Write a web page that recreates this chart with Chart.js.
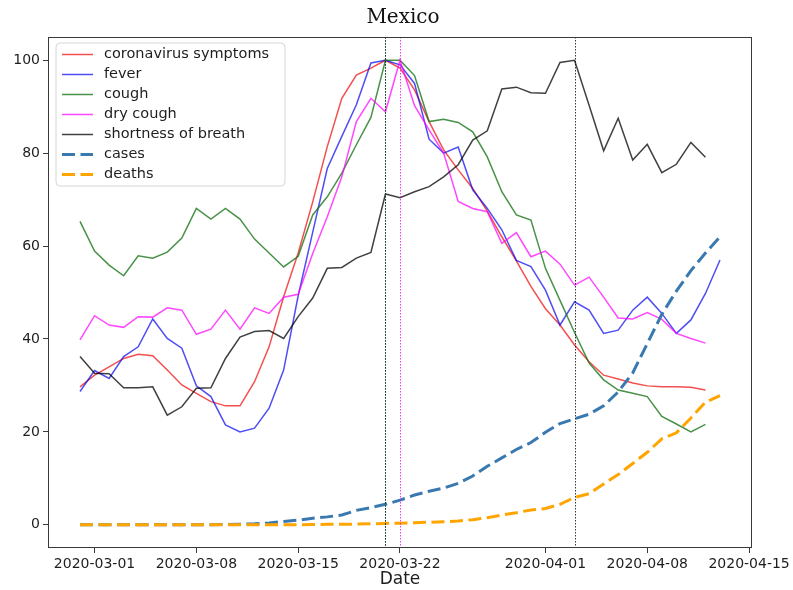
<!DOCTYPE html>
<html>
<head>
<meta charset="utf-8">
<title>Mexico</title>
<script src="https://cdn.jsdelivr.net/npm/chart.js@4/dist/chart.umd.min.js"></script>
<style>
  html, body { margin: 0; padding: 0; background: #ffffff; }
  canvas { display: block; }
</style>
</head>
<body>
<canvas id="chart" width="793" height="590"></canvas>
<script>
// Daily observations, 2020-02-29 .. 2020-04-13
const dates = [
  '2020-02-29',
  '2020-03-01','2020-03-02','2020-03-03','2020-03-04','2020-03-05','2020-03-06','2020-03-07',
  '2020-03-08','2020-03-09','2020-03-10','2020-03-11','2020-03-12','2020-03-13','2020-03-14',
  '2020-03-15','2020-03-16','2020-03-17','2020-03-18','2020-03-19','2020-03-20','2020-03-21',
  '2020-03-22','2020-03-23','2020-03-24','2020-03-25','2020-03-26','2020-03-27','2020-03-28',
  '2020-03-29','2020-03-30','2020-03-31',
  '2020-04-01','2020-04-02','2020-04-03','2020-04-04','2020-04-05','2020-04-06','2020-04-07',
  '2020-04-08','2020-04-09','2020-04-10','2020-04-11','2020-04-12','2020-04-13'
];

// Search interest (scaled 0-100)
const coronavirusSymptoms = [29.7, 32.2, 34.0, 35.8, 36.7, 36.4, 33.3, 30.1, 28.3, 26.5, 25.6, 25.6, 30.8, 38.3, 49.1, 58.5, 69.5, 81.4, 91.8, 96.8, 98.3, 100, 98.3, 93.6, 86.8, 80.7, 76.4, 72.4, 67.5, 62.0, 56.8, 51.3, 46.5, 43.0, 38.7, 35.1, 32.2, 31.4, 30.5, 29.9, 29.7, 29.7, 29.6, 29.0];
const fever = [28.7, 33.2, 31.5, 36.2, 38.3, 44.3, 40.1, 38.0, 29.9, 27.6, 21.5, 20.0, 20.8, 25.1, 33.3, 49.3, 63.0, 76.7, 83.6, 90.4, 99.4, 100, 99.0, 95.0, 83.0, 80.0, 81.3, 72.1, 68.1, 63.5, 56.9, 55.6, 50.5, 43.0, 48.0, 46.2, 41.2, 41.9, 46.2, 49.0, 45.5, 41.2, 44.1, 49.8, 57.0];
const cough = [65.3, 58.9, 55.9, 53.6, 57.9, 57.4, 58.7, 61.7, 68.1, 65.8, 68.1, 65.8, 61.5, 58.5, 55.5, 57.8, 66.7, 70.6, 75.7, 81.8, 87.7, 100, 100, 96.7, 86.8, 87.3, 86.6, 84.6, 79.2, 71.7, 66.7, 65.6, 55.2, 48.3, 41.4, 34.8, 31.2, 29.0, 28.3, 27.6, 23.3, 21.7, 20.0, 21.6];
const dryCough = [39.8, 45.0, 43.0, 42.5, 44.8, 44.7, 46.7, 46.2, 41.0, 42.1, 46.2, 42.1, 46.7, 45.5, 49.0, 49.6, 58.4, 66.3, 74.9, 86.8, 91.8, 88.9, 100, 90.2, 85.0, 80.0, 69.6, 68.1, 67.4, 60.6, 62.9, 57.7, 58.9, 56.1, 51.6, 53.3, 49.0, 44.5, 44.3, 45.7, 44.2, 41.2, 40.1, 39.1];
const shortnessOfBreath = [36.2, 32.6, 32.5, 29.5, 29.5, 29.7, 23.6, 25.4, 29.4, 29.5, 35.8, 40.4, 41.6, 41.8, 40.1, 44.8, 48.8, 55.2, 55.4, 57.4, 58.6, 71.2, 70.4, 71.7, 72.8, 74.9, 77.5, 82.8, 84.8, 93.8, 94.2, 93.0, 92.9, 99.5, 100, 90.3, 80.5, 87.5, 78.5, 81.9, 75.8, 77.6, 82.3, 79.1];

// Cases and deaths (scaled)
const cases = [0, 0, 0, 0, 0, 0, 0, 0, 0, 0, 0.05, 0.1, 0.2, 0.4, 0.7, 1.0, 1.4, 1.7, 2.1, 3.1, 3.7, 4.4, 5.3, 6.4, 7.2, 7.9, 8.9, 10.5, 12.6, 14.4, 16.2, 17.7, 19.9, 21.8, 22.8, 23.8, 25.6, 28.6, 32.7, 39.0, 45.3, 50.3, 54.7, 58.5, 62.0];
const deaths = [0, 0, 0, 0, 0, 0, 0, 0, 0, 0, 0, 0, 0, 0, 0, 0, 0.05, 0.1, 0.1, 0.15, 0.2, 0.3, 0.35, 0.45, 0.55, 0.65, 0.8, 1.1, 1.5, 2.1, 2.6, 3.2, 3.5, 4.4, 5.9, 6.7, 8.8, 10.8, 13.2, 15.6, 18.5, 19.8, 23.0, 26.4, 27.8];

const xTickLabels = ['2020-03-01', '2020-03-08', '2020-03-15', '2020-03-22', '2020-04-01', '2020-04-08', '2020-04-15'];
const yTickValues = [0, 20, 40, 60, 80, 100];

const DAY = 86400000;
const dayOf = d => (Date.parse(d) - Date.parse(dates[0])) / DAY;
const toPoints = arr => arr.map((v, i) => ({ x: dayOf(dates[i]), y: v }));

const firstDay = dayOf(dates[0]);
const lastDay = dayOf(dates[dates.length - 1]);
const span = lastDay - firstDay;

const symptomSeries = [
  { label: 'coronavirus symptoms', data: coronavirusSymptoms, color: 'rgba(240,20,20,0.75)',  peak: 'rgba(200,0,0,0.8)' },
  { label: 'fever',                data: fever,               color: 'rgba(10,10,240,0.72)',  peak: 'rgba(0,0,200,0.8)' },
  { label: 'cough',                data: cough,               color: 'rgba(20,115,20,0.78)',  peak: 'rgba(0,90,0,0.85)' },
  { label: 'dry cough',            data: dryCough,            color: 'rgba(255,0,255,0.72)',  peak: 'rgba(255,0,255,0.8)' },
  { label: 'shortness of breath',  data: shortnessOfBreath,   color: 'rgba(0,0,0,0.75)',      peak: 'rgba(0,0,0,0.8)' }
];

const datasets = symptomSeries.map((s, i) => ({
  label: s.label,
  data: toPoints(s.data),
  borderColor: s.color,
  backgroundColor: s.color,
  borderWidth: 1.5,
  pointRadius: 0,
  tension: 0,
  fill: false,
  order: 20 - i
}));
datasets.push({
  label: 'cases', data: toPoints(cases),
  borderColor: '#3a78b0', backgroundColor: '#3a78b0',
  borderWidth: 3, borderDash: [13, 5.5], borderCapStyle: 'butt',
  pointRadius: 0, tension: 0, fill: false, order: 2
});
datasets.push({
  label: 'deaths', data: toPoints(deaths),
  borderColor: '#ffa500', backgroundColor: '#ffa500',
  borderWidth: 3, borderDash: [13, 5.5], borderCapStyle: 'butt',
  pointRadius: 0, tension: 0, fill: false, order: 1
});

const TEXT = '#1e1e1e';
const FONT = 'DejaVu Sans';

// Frame, peak markers, title, axis label and legend
const decorations = {
  id: 'decorations',
  afterDatasetsDraw(chart) {
    const { ctx, chartArea: a, scales: { x } } = chart;
    ctx.save();
    ctx.beginPath();
    ctx.rect(a.left, a.top, a.right - a.left, a.bottom - a.top);
    ctx.clip();
    // dotted vertical line at each symptom's peak day
    ctx.lineWidth = 1;
    ctx.setLineDash([1.5, 1.5]);
    symptomSeries.forEach(s => {
      let best = 0;
      s.data.forEach((v, i) => { if (v > s.data[best]) best = i; });
      const px = Math.round(x.getPixelForValue(dayOf(dates[best]))) + 0.5;
      ctx.strokeStyle = s.peak;
      ctx.beginPath();
      ctx.moveTo(px, a.top);
      ctx.lineTo(px, a.bottom);
      ctx.stroke();
    });
    ctx.restore();
  },
  afterDraw(chart) {
    const { ctx, chartArea: a, data } = chart;
    ctx.save();
    // axes frame
    ctx.strokeStyle = '#3a3a3a';
    ctx.lineWidth = 1;
    ctx.setLineDash([]);
    ctx.strokeRect(Math.round(a.left) + 0.5, Math.round(a.top) + 0.5,
                   Math.round(a.right - a.left) - 1, Math.round(a.bottom - a.top) - 1);

    // title
    ctx.fillStyle = '#111';
    ctx.textAlign = 'center';
    ctx.textBaseline = 'middle';
    ctx.font = '20px "DejaVu Serif"';
    ctx.fillText('Mexico', (a.left + a.right) / 2 + 3, 18);

    // x axis label
    ctx.fillStyle = TEXT;
    ctx.font = '17px "' + FONT + '"';
    ctx.fillText('Date', (a.left + a.right) / 2, 580);

    // legend
    const bx = a.left + 8, by = a.top + 6, bw = 229, bh = 143, r = 4;
    ctx.beginPath();
    ctx.moveTo(bx + r, by);
    ctx.arcTo(bx + bw, by, bx + bw, by + bh, r);
    ctx.arcTo(bx + bw, by + bh, bx, by + bh, r);
    ctx.arcTo(bx, by + bh, bx, by, r);
    ctx.arcTo(bx, by, bx + bw, by, r);
    ctx.closePath();
    ctx.fillStyle = 'rgba(255,255,255,0.85)';
    ctx.fill();
    ctx.strokeStyle = '#d6d6d6';
    ctx.lineWidth = 1;
    ctx.stroke();

    ctx.textAlign = 'left';
    ctx.font = '14.5px "' + FONT + '"';
    data.datasets.forEach((ds, i) => {
      const cy = by + 11.5 + i * 20;
      ctx.strokeStyle = ds.borderColor;
      ctx.lineWidth = ds.borderWidth;
      ctx.setLineDash(ds.borderDash || []);
      ctx.lineCap = 'butt';
      ctx.beginPath();
      ctx.moveTo(bx + 6, cy);
      ctx.lineTo(bx + 37, cy);
      ctx.stroke();
      ctx.setLineDash([]);
      ctx.fillStyle = TEXT;
      ctx.fillText(ds.label, bx + 48, cy);
    });
    ctx.restore();
  }
};

new Chart(document.getElementById('chart'), {
  type: 'line',
  data: { datasets },
  options: {
    responsive: false,
    animation: false,
    events: [],
    layout: { padding: { top: 37, right: 41, left: 0, bottom: 0 } },
    plugins: {
      legend: { display: false },
      title: { display: false },
      tooltip: { enabled: false }
    },
    scales: {
      x: {
        type: 'linear',
        min: firstDay - 0.05 * span,
        max: lastDay + 0.05 * span,
        border: { display: false },
        grid: { drawOnChartArea: false, drawTicks: true, tickLength: 5, tickWidth: 1, color: '#3a3a3a' },
        afterBuildTicks: s => { s.ticks = xTickLabels.map(d => ({ value: dayOf(d), label: d })); },
        afterFit: s => { s.height = 42; },
        ticks: {
          autoSkip: false, maxRotation: 0, minRotation: 0, padding: 3,
          color: TEXT, font: { family: FONT, size: 14 },
          callback: (v) => { const d = xTickLabels.find(t => dayOf(t) === v); return d || ''; }
        }
      },
      y: {
        min: -5,
        max: 105,
        border: { display: false },
        grid: { drawOnChartArea: false, drawTicks: true, tickLength: 5, tickWidth: 1, color: '#3a3a3a' },
        afterBuildTicks: s => { s.ticks = yTickValues.map(v => ({ value: v })); },
        afterFit: s => { s.width = 48; },
        ticks: {
          padding: 3, color: TEXT, font: { family: FONT, size: 14 },
          callback: v => String(v)
        }
      }
    }
  },
  plugins: [decorations]
});
</script>
</body>
</html>
